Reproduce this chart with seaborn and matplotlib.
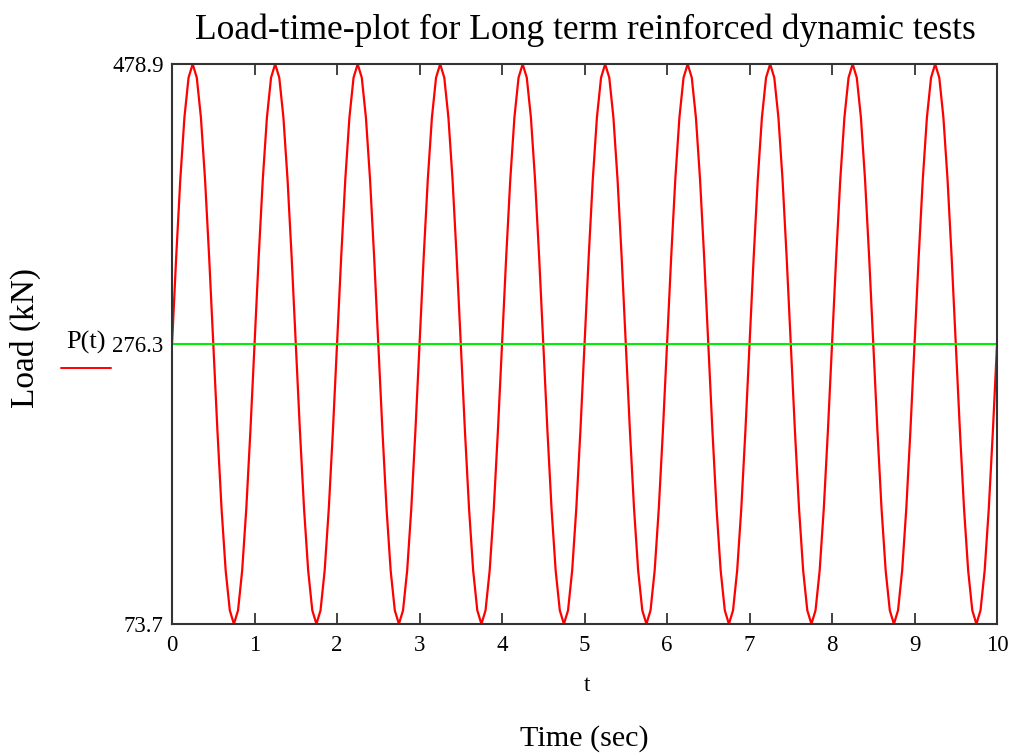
import numpy as np
import pandas as pd
import matplotlib
matplotlib.use("Agg")
import matplotlib.pyplot as plt
import seaborn as sns
from matplotlib.lines import Line2D

# ---- data ----
title = "Load-time-plot for Long term reinforced dynamic tests"
time_sec = np.round(np.arange(0, 10.0001, 0.05), 2)
load_kN = [
    276.3, 338.9, 395.4, 440.2, 469.0, 478.9, 469.0, 440.2, 395.4, 338.9,
    276.3, 213.7, 157.2, 112.4, 83.6, 73.7, 83.6, 112.4, 157.2, 213.7,
    276.3, 338.9, 395.4, 440.2, 469.0, 478.9, 469.0, 440.2, 395.4, 338.9,
    276.3, 213.7, 157.2, 112.4, 83.6, 73.7, 83.6, 112.4, 157.2, 213.7,
    276.3, 338.9, 395.4, 440.2, 469.0, 478.9, 469.0, 440.2, 395.4, 338.9,
    276.3, 213.7, 157.2, 112.4, 83.6, 73.7, 83.6, 112.4, 157.2, 213.7,
    276.3, 338.9, 395.4, 440.2, 469.0, 478.9, 469.0, 440.2, 395.4, 338.9,
    276.3, 213.7, 157.2, 112.4, 83.6, 73.7, 83.6, 112.4, 157.2, 213.7,
    276.3, 338.9, 395.4, 440.2, 469.0, 478.9, 469.0, 440.2, 395.4, 338.9,
    276.3, 213.7, 157.2, 112.4, 83.6, 73.7, 83.6, 112.4, 157.2, 213.7,
    276.3, 338.9, 395.4, 440.2, 469.0, 478.9, 469.0, 440.2, 395.4, 338.9,
    276.3, 213.7, 157.2, 112.4, 83.6, 73.7, 83.6, 112.4, 157.2, 213.7,
    276.3, 338.9, 395.4, 440.2, 469.0, 478.9, 469.0, 440.2, 395.4, 338.9,
    276.3, 213.7, 157.2, 112.4, 83.6, 73.7, 83.6, 112.4, 157.2, 213.7,
    276.3, 338.9, 395.4, 440.2, 469.0, 478.9, 469.0, 440.2, 395.4, 338.9,
    276.3, 213.7, 157.2, 112.4, 83.6, 73.7, 83.6, 112.4, 157.2, 213.7,
    276.3, 338.9, 395.4, 440.2, 469.0, 478.9, 469.0, 440.2, 395.4, 338.9,
    276.3, 213.7, 157.2, 112.4, 83.6, 73.7, 83.6, 112.4, 157.2, 213.7,
    276.3, 338.9, 395.4, 440.2, 469.0, 478.9, 469.0, 440.2, 395.4, 338.9,
    276.3, 213.7, 157.2, 112.4, 83.6, 73.7, 83.6, 112.4, 157.2, 213.7,
    276.3,
]
mean_load = 276.3
y_ticks = [73.7, 276.3, 478.9]
x_ticks = [0, 1, 2, 3, 4, 5, 6, 7, 8, 9, 10]

df = pd.DataFrame({"t": time_sec, "P": load_kN})

sns.set_style("white")
plt.rcParams["font.family"] = ["Liberation Serif", "DejaVu Serif"]
plt.rcParams["text.color"] = "black"
plt.rcParams["xtick.labelcolor"] = "black"
plt.rcParams["ytick.labelcolor"] = "black"

fig = plt.figure(figsize=(10.15, 7.55), dpi=100)
ax = fig.add_axes([0.1695, 0.1735, 0.8128, 0.7417])

sns.lineplot(data=df, x="t", y="P", ax=ax, color="#ff0000", linewidth=1.6, estimator=None)
ax.axhline(mean_load, color="#00ee00", linewidth=1.5)

ax.set_xlim(0, 10)
ax.set_ylim(73.7, 478.9)
ax.set_xticks(x_ticks)
ax.set_xticklabels([str(v) for v in x_ticks])
ax.set_yticks(y_ticks)
ax.set_yticklabels([f"{v:.1f}" for v in y_ticks])
ax.tick_params(axis="x", direction="in", length=8, width=1.2, color="#222222",
               top=True, bottom=True, labelsize=16.5, pad=8)
ax.tick_params(axis="y", length=0, labelsize=16.5, pad=6)
ax.set_xlabel("")
ax.set_ylabel("")
for s in ax.spines.values():
    s.set_color("#333333")
    s.set_linewidth(1.5)

fig.text(0.577, 0.960, title, ha="center", va="center", fontsize=25.6)
fig.text(0.578, 0.092, "t", ha="center", va="center", fontsize=16.5)
fig.text(0.576, 0.022, "Time (sec)", ha="center", va="center", fontsize=21.7)
fig.text(0.025, 0.552, "Load (kN)", ha="center", va="center", rotation=90, fontsize=24)
fig.text(0.085, 0.546, "P(t)", ha="center", va="center", fontsize=19)
fig.add_artist(Line2D([0.060, 0.109], [0.513, 0.513], color="#ff0000", linewidth=1.4,
                      transform=fig.transFigure))

fig.savefig("out.png", dpi=100)
